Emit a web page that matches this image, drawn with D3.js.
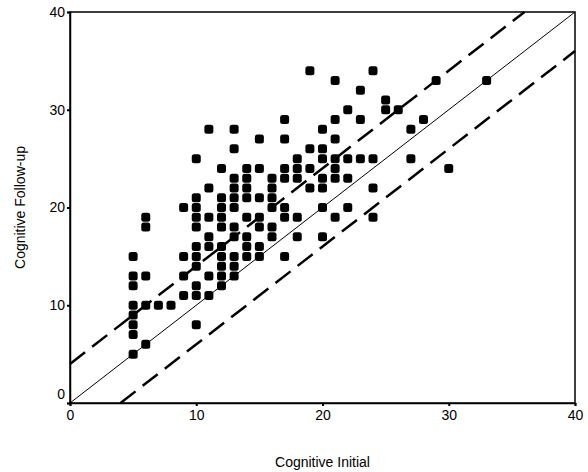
<!DOCTYPE html>
<html>
<head>
<meta charset="utf-8">
<script src="https://cdn.jsdelivr.net/npm/d3@7"></script>
<style>
  body { margin: 0; background: #fff; }
  text { font-family: "Liberation Sans", Arial, sans-serif; fill: #000; }
</style>
</head>
<body>
<div id="graph"></div>
<script>
// cognitive initial (x) and follow-up (y) scores
var initialScores = [5,5,5,5,5,5,5,5, 6,6,6,6,6, 7, 8, 9,9,9,9,
  10,10,10,10,10,10,10,10,10,10,10,
  11,11,11,11,11,11,11,
  12,12,12,12,12,12,12,12,12,12,
  13,13,13,13,13,13,13,13,13,13,13,
  14,14,14,14,14,14,14,14,
  15,15,15,15,15,15,15,
  16,16,16,16,16,16,
  17,17,17,17,17,17,17,
  18,18,18,18,18,
  19,19,19,19,
  20,20,20,20,20,20,20,
  21,21,21,21,21,21,21,
  22,22,22,22,
  23,23,23,
  24,24,24,24,
  25,25, 26, 27,27, 28, 29, 30, 33];
var followupScores = [15,13,12,10,9,8,7,5, 19,18,13,10,6, 10, 10, 20,15,13,11,
  25,21,20,19,18,16,15,14,12,11,8,
  28,22,19,17,16,13,11,
  24,21,20,19,18,16,15,14,13,12,
  28,26,23,22,21,20,18,17,15,14,13,
  24,23,22,21,19,17,16,15,
  27,24,21,19,18,16,15,
  23,22,21,20,18,17,
  29,27,24,23,20,19,15,
  25,24,23,19,17,
  34,26,24,22,
  28,26,25,23,22,20,17,
  33,29,27,25,24,23,19,
  30,25,23,20,
  32,29,25,
  34,25,22,19,
  31,30, 30, 28,25, 29, 33, 24, 33];
var tickValues = [0, 10, 20, 30, 40];
var bandOffset = 4;

var width = 588, height = 472;
var margin = {left: 70, right: 13, top: 12, bottom: 69};

var x = d3.scaleLinear().domain([0, 40]).range([margin.left, width - margin.right]);
var y = d3.scaleLinear().domain([0, 40]).range([height - margin.bottom, margin.top]);

var svg = d3.select('#graph')
            .append('svg')
            .attr('width', width)
            .attr('height', height);

// frame
svg.append('rect')
   .attr('x', x(0))
   .attr('y', y(40))
   .attr('width', x(40) - x(0))
   .attr('height', y(0) - y(40))
   .attr('fill', 'none')
   .attr('stroke', '#000')
   .attr('stroke-width', 1.5);

var xAxis = svg.append('g')
   .attr('transform', 'translate(0,' + y(0) + ')')
   .call(d3.axisBottom(x).tickValues(tickValues).tickSize(3).tickFormat(d3.format('d')));

var yAxis = svg.append('g')
   .attr('transform', 'translate(' + x(0) + ',0)')
   .call(d3.axisLeft(y).tickValues(tickValues).tickSize(3).tickFormat(d3.format('d')));

[xAxis, yAxis].forEach(function(a) {
  a.select('.domain').attr('stroke', '#000').attr('stroke-width', 1.5);
  a.selectAll('.tick line').attr('stroke', '#000').attr('stroke-width', 2);
  a.selectAll('.tick text').style('font-size', '14px').style('font-family', '"Liberation Sans", Arial, sans-serif');
});
xAxis.selectAll('.tick text').attr('y', 7);
yAxis.selectAll('.tick text').attr('x', -5);
yAxis.selectAll('.tick text').filter(function(d) { return d === 0; }).attr('dy', '-0.3em');

// reference lines
var line = d3.line().x(function(d) { return x(d[0]); }).y(function(d) { return y(d[1]); });

svg.append('path')
   .attr('d', line([[0, 0], [40, 40]]))
   .attr('stroke', '#000')
   .attr('stroke-width', 1)
   .attr('fill', 'none');

svg.append('path')
   .attr('d', line([[0, bandOffset], [40 - bandOffset, 40]]))
   .attr('stroke', '#000')
   .attr('stroke-width', 2.5)
   .attr('stroke-dasharray', '19,9')
   .attr('fill', 'none');

svg.append('path')
   .attr('d', line([[bandOffset, 0], [40, 40 - bandOffset]]))
   .attr('stroke', '#000')
   .attr('stroke-width', 2.5)
   .attr('stroke-dasharray', '19,9')
   .attr('fill', 'none');

// points
svg.append('g')
   .selectAll('rect')
   .data(d3.zip(initialScores, followupScores))
   .enter()
   .append('rect')
   .attr('x', function(d) { return x(d[0]) - 4.5; })
   .attr('y', function(d) { return y(d[1]) - 4.5; })
   .attr('width', 9)
   .attr('height', 9)
   .attr('rx', 2.5)
   .attr('fill', '#000');

svg.append('text')
   .attr('x', (x(0) + x(40)) / 2)
   .attr('y', 467)
   .attr('text-anchor', 'middle')
   .style('font-size', '14px')
   .text('Cognitive Initial');

svg.append('text')
   .attr('transform', 'translate(25,' + (y(20)) + ') rotate(-90)')
   .attr('text-anchor', 'middle')
   .style('font-size', '14px')
   .text('Cognitive Follow-up');
</script>
</body>
</html>
